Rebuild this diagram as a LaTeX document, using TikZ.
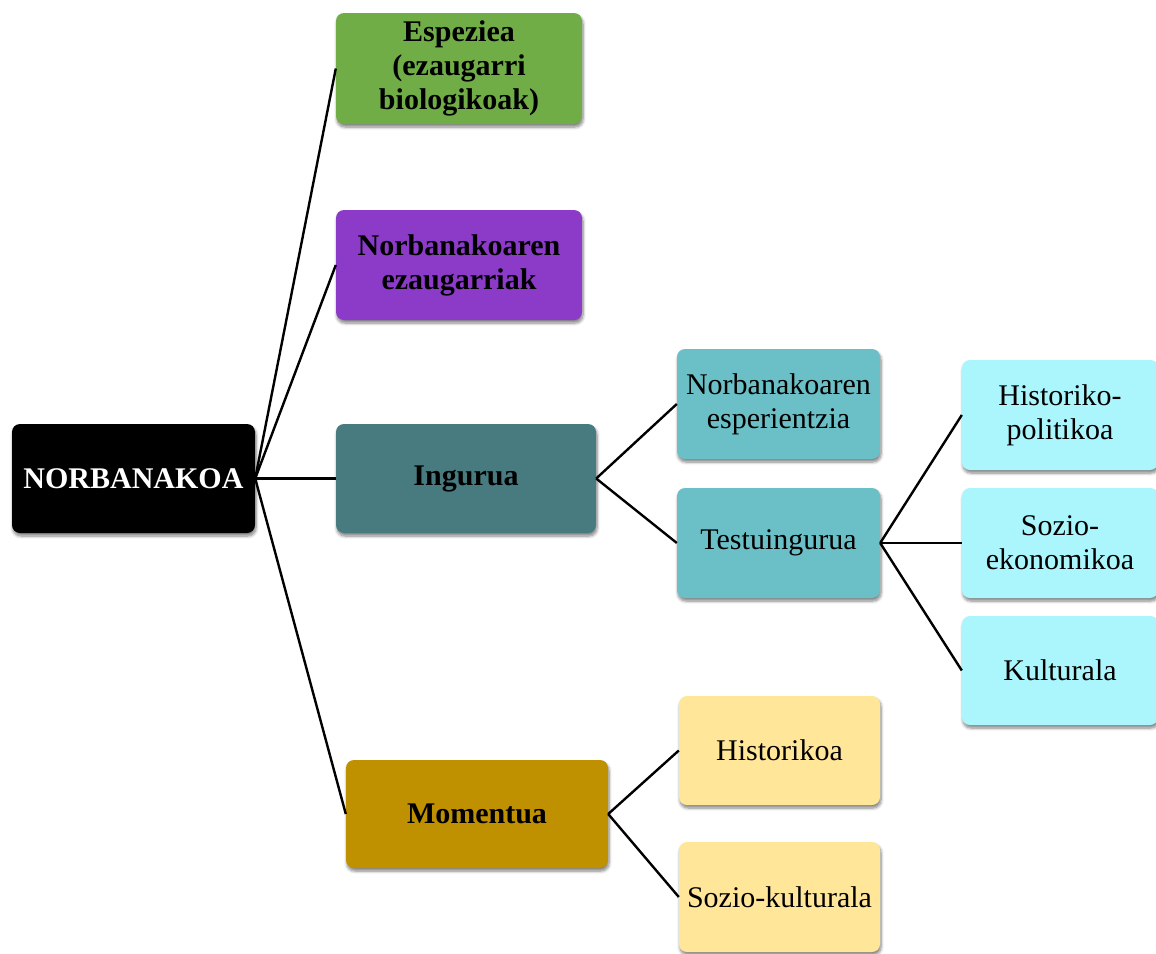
\documentclass[tikz,border=0pt]{standalone}
\usepackage{fontspec}
\setmainfont{Liberation Serif}
\usetikzlibrary{shadows.blur}
\definecolor{cRoot}{HTML}{000000}
\definecolor{cGreen}{HTML}{70AD47}
\definecolor{cPurple}{HTML}{8B3BC8}
\definecolor{cDarkTeal}{HTML}{477B80}
\definecolor{cTeal}{HTML}{6BBFC6}
\definecolor{cCyan}{HTML}{AAF6FC}
\definecolor{cGold}{HTML}{BF9000}
\definecolor{cYellow}{HTML}{FFE699}
\tikzset{
  box/.style={rectangle, rounded corners=8pt, draw=none, align=center,
    inner sep=2pt, font=\fontsize{30}{34}\selectfont,
    blur shadow={shadow xshift=1pt, shadow yshift=-3pt, shadow blur steps=6,
      shadow blur radius=3pt, shadow opacity=50}},
  bbox/.style={box, font=\fontsize{30}{34}\selectfont\bfseries},
  link/.style={draw=black, line width=2.4pt},
}
\begin{document}
\begin{tikzpicture}[x=1pt,y=-1pt]
\useasboundingbox (0,0) rectangle (1156,953);

% level 0
\node[bbox, fill=cRoot, text=white, minimum width=243pt, minimum height=109pt] (root) at (133.5,478.5) {NORBANAKOA};

% level 1
\node[bbox, fill=cGreen, minimum width=246pt, minimum height=111pt] (esp) at (459,68.5) {Espeziea\\(ezaugarri\\biologikoak)};
\node[bbox, fill=cPurple, minimum width=246pt, minimum height=110pt] (nez) at (459,265) {Norbanakoaren\\ezaugarriak};
\node[bbox, fill=cDarkTeal, minimum width=260pt, minimum height=109pt] (ing) at (466,478.5) {Ingurua};
\node[bbox, fill=cGold, minimum width=262pt, minimum height=108pt] (mom) at (477,814) {Momentua};

% level 2
\node[box, fill=cTeal, minimum width=203pt, minimum height=110pt] (nesp) at (778.5,404) {Norbanakoaren\\esperientzia};
\node[box, fill=cTeal, minimum width=203pt, minimum height=110pt] (test) at (778.5,543) {Testuingurua};
\node[box, fill=cYellow, minimum width=201pt, minimum height=109pt] (hist) at (779.5,750.5) {Historikoa};
\node[box, fill=cYellow, minimum width=201pt, minimum height=110pt] (skul) at (779.5,897) {Sozio-kulturala};

% level 3
\node[box, fill=cCyan, minimum width=196pt, minimum height=110pt] (hpol) at (1060,415) {Historiko-\\politikoa};
\node[box, fill=cCyan, minimum width=196pt, minimum height=110pt] (seko) at (1060,543) {Sozio-\\ekonomikoa};
\node[box, fill=cCyan, minimum width=196pt, minimum height=109pt] (kult) at (1060,670.5) {Kulturala};

% connectors
\foreach \c in {esp,nez,ing,mom} \draw[link] (root.east) -- (\c.west);
\foreach \c in {nesp,test} \draw[link] (ing.east) -- (\c.west);
\foreach \c in {hpol,seko,kult} \draw[link] (test.east) -- (\c.west);
\foreach \c in {hist,skul} \draw[link] (mom.east) -- (\c.west);
\end{tikzpicture}
\end{document}
